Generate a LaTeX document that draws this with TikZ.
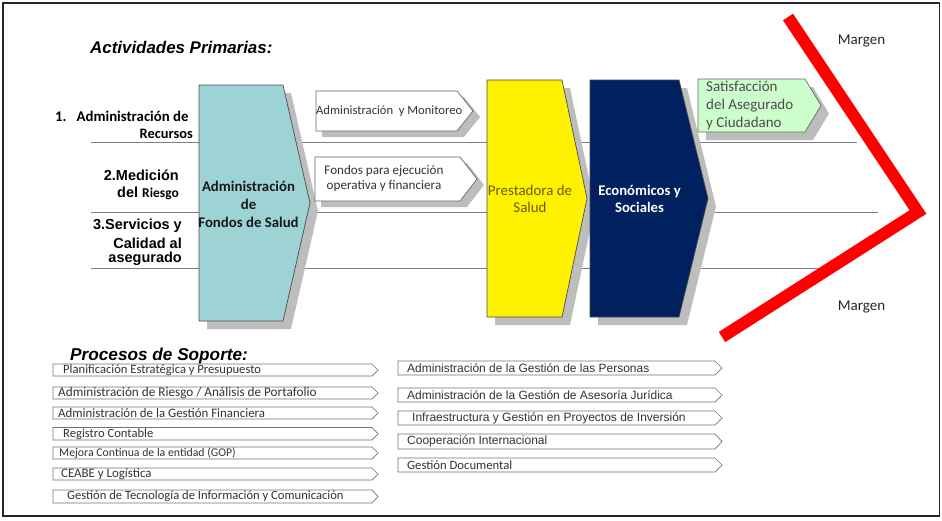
\documentclass[tikz,border=0pt]{standalone}
\usepackage{fontspec}
\setmainfont{Carlito}
\newfontfamily\arial{Liberation Sans}
\usetikzlibrary{calc}
\definecolor{tealbox}{HTML}{9ED3D6}
\definecolor{navybox}{HTML}{002060}
\definecolor{greenbox}{HTML}{CCFFCC}
\definecolor{olivetxt}{HTML}{6B5A00}
\definecolor{shadowgray}{HTML}{BDBDBD}
\definecolor{linegray}{HTML}{7F7F7F}
\definecolor{redline}{HTML}{FF0000}
\tikzset{
  bigbox/.style={draw=black!70, line width=0.7pt},
  flowbox/.style={draw=black!60, line width=0.7pt, fill=white},
  suparrow/.style={draw=black!55, line width=0.7pt, fill=white},
  shadowfill/.style={fill=shadowgray, draw=none},
  guide/.style={draw=linegray, line width=0.8pt},
  lbl/.style={inner sep=0pt, font=\bfseries},
  sup/.style={inner sep=0pt, anchor=west, font=\fontsize{12.6}{14}\selectfont, text=black!80},
  supa/.style={sup, font=\arial\fontsize{12}{14}\selectfont},
}
% #1 style, #2 left, #3 top, #4 tip x, #5 bottom, #6 depth
\newcommand\chevshape[6]{%
  \path[#1] (#2,#3) -- ({#4-#6},#3) -- (#4,{(#3+#5)/2}) -- ({#4-#6},#5) -- (#2,#5) -- cycle;}
\begin{document}
\begin{tikzpicture}[x=1pt,y=-1pt]
\useasboundingbox (0,0) rectangle (942,520);
\draw[line width=1.6pt, black!85] (3,3) rectangle (939.5,516);

% titles
\node[anchor=west, inner sep=0pt, font=\arial\bfseries\itshape\fontsize{16.9}{19}\selectfont] (t1) at (90,47) {Actividades Primarias:};
\node[anchor=west, inner sep=0pt, font=\arial\bfseries\itshape\fontsize{17.2}{19}\selectfont] (t2) at (70,356) {Procesos de Soporte:};

% guide lines
\coordinate (g1a) at (91,142); \coordinate (g1b) at (857,142);
\coordinate (g2a) at (91,212); \coordinate (g2b) at (878,212);
\coordinate (g3a) at (91,268); \coordinate (g3b) at (818,268);
\draw[guide] (g1a) -- (g1b);
\draw[guide] (g2a) -- (g2b);
\draw[guide] (g3a) -- (g3b);

% shadows
\chevshape{shadowfill}{207}{93}{318}{329}{27}
\chevshape{shadowfill}{495}{88}{595}{325}{25}
\chevshape{shadowfill}{598}{88}{716}{325}{29}
\chevshape{shadowfill}{706}{87}{829}{140}{16}
\chevshape{shadowfill}{322}{97}{480}{137}{16}
\chevshape{shadowfill}{321}{163}{484}{207}{17}

% big chevrons
\chevshape{bigbox, fill=tealbox}{199}{85}{310}{321}{27}
\chevshape{bigbox, fill=yellow}{487}{80}{587}{317}{25}
\chevshape{bigbox, fill=navybox}{590}{80}{708}{317}{29}
\chevshape{flowbox, fill=greenbox}{698}{79}{821}{132}{16}
\chevshape{flowbox}{316}{91}{473}{131}{16}
\chevshape{flowbox}{315}{157}{477}{201}{17}

% texts of chevrons
\node[align=center, inner sep=0pt, font=\bfseries\fontsize{14.8}{18}\selectfont, text=black!90] (fondos) at (248.5,204) {Administración\\de\\Fondos de Salud};
\node[align=center, inner sep=0pt, font=\fontsize{14.9}{17.5}\selectfont, text=olivetxt] (prest) at (530,199) {Prestadora de\\Salud};
\node[align=center, inner sep=0pt, font=\bfseries\fontsize{14.7}{17.5}\selectfont, text=white] (econ) at (639.5,199) {Económicos y\\Sociales};
\node[align=left, anchor=west, inner sep=0pt, font=\fontsize{15}{18}\selectfont, text=black!70] (satis) at (706,106) {Satisfacción\\del Asegurado\\y Ciudadano};
\node[anchor=west, inner sep=0pt, font=\fontsize{12.6}{14}\selectfont, text=black!80] (monit) at (316,111) {Administración\ \ y Monitoreo};
\node[align=center, inner sep=0pt, font=\fontsize{13.1}{15.5}\selectfont, text=black!80] (ejec) at (384,178.5) {Fondos para ejecución\\operativa y financiera};

% margin
\draw[redline, line width=12pt] (788,17) -- (918,212) -- (722,337);
\node[inner sep=0pt, font=\fontsize{15}{17}\selectfont, text=black!85] (m1) at (861.5,41) {Margen};
\node[inner sep=0pt, font=\fontsize{15}{17}\selectfont, text=black!85] (m2) at (861.5,307) {Margen};

% left labels
\node[lbl, anchor=west, font=\bfseries\fontsize{14.8}{17}\selectfont] (l1a) at (55,116) {1.\ \ \ Administración de};
\node[lbl, anchor=east, font=\bfseries\fontsize{14.4}{17}\selectfont] (l1b) at (193,134) {Recursos};
\node[lbl, anchor=east, font=\arial\bfseries\fontsize{14.5}{17}\selectfont] (l2a) at (179,175) {2.Medición};
\node[lbl, anchor=east] (l2b) at (179,193) {{\arial\bfseries\fontsize{14.5}{17}\selectfont del }{\bfseries\fontsize{13.5}{16}\selectfont Riesgo}};
\node[lbl, anchor=east, font=\arial\bfseries\fontsize{14.5}{17}\selectfont] (l3a) at (182,226) {3.Servicios y};
\node[lbl, anchor=east, font=\arial\bfseries\fontsize{14.5}{17}\selectfont] (l3b) at (182,243) {Calidad al};
\node[lbl, anchor=east, font=\arial\bfseries\fontsize{14.5}{17}\selectfont] (l3c) at (182,259) {asegurado};

% support processes, left column
\chevshape{suparrow}{53}{364}{378}{376}{6}
\chevshape{suparrow}{53}{387}{378}{399}{6}
\chevshape{suparrow}{53}{407}{378}{419}{6}
\chevshape{suparrow}{53}{427.5}{378}{440}{6}
\chevshape{suparrow}{53}{447}{378}{459}{6}
\chevshape{suparrow}{53}{468}{378}{480}{6}
\chevshape{suparrow}{53}{490}{378}{503}{6}
\node[sup] (s1) at (63,370) {Planificación Estratégica y Presupuesto};
\node[sup, font=\fontsize{13.2}{14}\selectfont] (s2) at (58,393) {Administración de Riesgo / Análisis de Portafolio};
\node[sup, font=\fontsize{12.9}{14}\selectfont] (s3) at (58,413) {Administración de la Gestión Financiera};
\node[sup] (s4) at (63,434) {Registro Contable};
\node[sup, font=\fontsize{11.8}{14}\selectfont] (s5) at (59,453) {Mejora Continua de la entidad (GOP)};
\node[sup, font=\fontsize{12.9}{14}\selectfont] (s6) at (61,474) {CEABE y Logística};
\node[sup, font=\fontsize{12.6}{14}\selectfont] (s7) at (67,496) {Gestión\ de Tecnología de Información y Comunicación};

% support processes, right column
\chevshape{suparrow}{398}{361}{722}{375}{7}
\chevshape{suparrow}{398}{388}{722}{402}{7}
\chevshape{suparrow}{398}{411}{722}{425}{7}
\chevshape{suparrow}{398}{434}{722}{449}{7}
\chevshape{suparrow}{398}{458}{722}{472}{7}
\node[supa] (r1) at (407,368) {Administración de la Gestión de las Personas};
\node[supa] (r2) at (407,395) {Administración de la Gestión de Asesoría Jurídica};
\node[supa] (r3) at (412,418) {Infraestructura y Gestión en Proyectos de Inversión};
\node[supa] (r4) at (407,441) {Cooperación Internacional};
\node[sup, font=\fontsize{12.7}{14}\selectfont] (r5) at (407,465) {Gestión Documental};
\end{tikzpicture}
\end{document}
